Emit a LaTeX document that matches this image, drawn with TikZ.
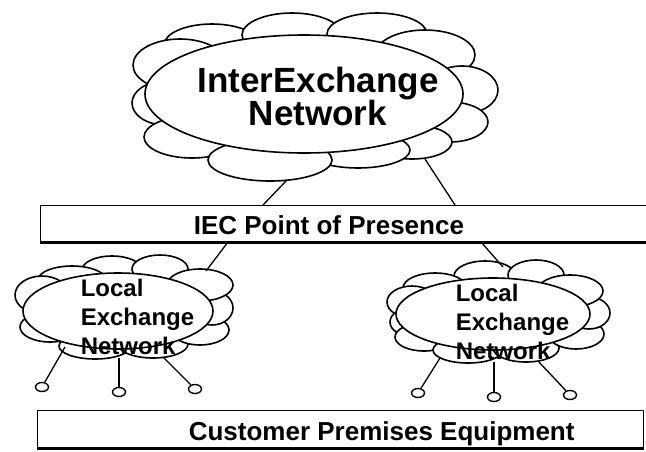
\documentclass[tikz,border=0pt]{standalone}
\usepackage{fontspec}
\setmainfont{Liberation Sans}
\usetikzlibrary{shapes.geometric}
\begin{document}
\begin{tikzpicture}[x=1pt,y=-1pt,
  line width=1.6pt, line join=round,
  bump/.style={draw, fill=white},
  hub/.style={ellipse, draw, fill=white, inner sep=0pt},
  pend/.style={ellipse, draw, fill=white, inner sep=0pt, line width=1.4pt,
               minimum width=13pt, minimum height=9pt},
  wire/.style={line width=1.3pt},
  panel/.style={draw, line width=1.3pt, inner sep=0pt, anchor=north west},
  bigtext/.style={font=\fontsize{35}{31}\selectfont\bfseries, align=center,
                  inner sep=0pt, anchor=north},
  loctext/.style={font=\fontsize{24}{29}\selectfont\bfseries, align=left,
                  inner sep=0pt, anchor=north west},
  bartext/.style={font=\fontsize{26}{30}\selectfont\bfseries, inner sep=0pt,
                  anchor=base west}]
\useasboundingbox (0,0) rectangle (646,451);
\fill[white] (0,0) rectangle (646,451);

% ---- InterExchange cloud ----
\foreach \cx/\cy/\rx/\ry in {212/45/48/21, 292/35/50/22, 377/34/50/21,
    425/55/50/25, 180/65/47/26, 165/103/33/22, 462/90/36/24, 450/122/38/20,
    192/137/48/21, 412/142/40/17, 358/150/52/18, 270/160/62/21}
  \draw[bump] (\cx,\cy) ellipse [x radius=\rx, y radius=\ry];
\node[hub, minimum width=318pt, minimum height=118pt] (iex) at (304,94) {};
\node[bigtext] (iexlabel) at (318,66) {InterExchange\\Network};

% ---- left Local Exchange cloud ----
\foreach \cx/\cy/\rx/\ry in {112/270/30/14, 160/269/28/14, 72/280/34/14,
    42/295/27/19, 50/327/30/15, 95/346/36/13, 153/344/35/14, 200/330/29/15,
    212/308/21/17, 200/285/33/16}
  \draw[bump] (\cx,\cy) ellipse [x radius=\rx, y radius=\ry];
\node[hub, minimum width=190pt, minimum height=76pt] (lecL) at (118,311) {};
\node[loctext] (lecLlabel) at (80,278) {Local\\Exchange\\Network};

% ---- right Local Exchange cloud ----
\foreach \cx/\cy/\rx/\ry in {485/276/31/15, 536/275/28/15, 435/288/32/15,
    412/302/25/16, 414/322/24/15, 424/337/29/14, 468/350/35/13, 526/348/33/14,
    576/334/28/15, 589/313/21/16, 570/291/33/16}
  \draw[bump] (\cx,\cy) ellipse [x radius=\rx, y radius=\ry];
\node[hub, minimum width=194pt, minimum height=72pt] (lecR) at (493,314) {};
\node[loctext] (lecRlabel) at (455,283) {Local\\Exchange\\Network};

% ---- IEC Point of Presence bar (runs off the right side) ----
\node[panel, minimum width=620pt, minimum height=37pt] (iec) at (40,205) {};
\draw[line width=3pt] ([yshift=1pt]iec.south west) -- ([yshift=1pt]iec.south east);
\node[bartext] (ieclabel) at (193,234) {IEC Point of Presence};

% ---- Customer Premises Equipment bar ----
\node[panel, minimum width=606pt, minimum height=38pt] (cpe) at (37,410) {};
\draw[line width=3pt] ([yshift=1pt]cpe.south west) -- ([yshift=1pt]cpe.south east);
\node[bartext] (cpelabel) at (188,440) {Customer Premises Equipment};

% ---- links between the clouds and the IEC bar ----
\coordinate (iexL) at (287,180);
\coordinate (iexR) at (425,159);
\coordinate (iecTL) at (263,205);
\coordinate (iecTR) at (455,205);
\coordinate (iecBL) at (228,242);
\coordinate (iecBR) at (481,242);
\coordinate (lecLtop) at (206,271);
\coordinate (lecRtop) at (503,267);
\draw[wire] (iexL) -- (iecTL);
\draw[wire] (iexR) -- (iecTR);
\draw[wire] (iecBL) -- (lecLtop);
\draw[wire] (iecBR) -- (lecRtop);

% ---- customer taps ----
\node[pend] (pL1) at (42,387) {};
\node[pend] (pL2) at (119,392) {};
\node[pend] (pL3) at (195,389) {};
\node[pend] (pR1) at (418,393) {};
\node[pend] (pR2) at (494,397) {};
\node[pend] (pR3) at (570,395) {};
\coordinate (tL1) at (65,347);
\coordinate (tL2) at (119,358);
\coordinate (tL3) at (163,357);
\coordinate (tR1) at (440,358);
\coordinate (tR2) at (494,362);
\coordinate (tR3) at (538,361);
\draw[wire] (tL1) -- (pL1);
\draw[wire] (tL2) -- (pL2);
\draw[wire] (tL3) -- (pL3);
\draw[wire] (tR1) -- (pR1);
\draw[wire] (tR2) -- (pR2);
\draw[wire] (tR3) -- (pR3);
\end{tikzpicture}
\end{document}
